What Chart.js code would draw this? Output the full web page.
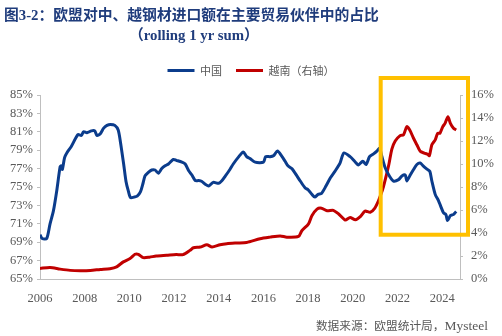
<!DOCTYPE html>
<html>
<head>
<meta charset="utf-8">
<script src="https://cdn.jsdelivr.net/npm/chart.js@4.4.1/dist/chart.umd.min.js"></script>
<style>
  body { margin: 0; background: #fff; }
  #wrap { position: relative; width: 502px; height: 336px; }
  .title { position: absolute; color: #1F3C7C; font-weight: bold; font-size: 14.8px; white-space: nowrap;
           font-family: "Liberation Serif", "Noto Sans CJK SC", serif; }
  #src { position: absolute; right: 14px; top: 316px; font-size: 11.7px; color: #595959; white-space: nowrap;
         font-family: "Noto Sans CJK SC", sans-serif; }
  #src span { font-family: "Liberation Serif", serif; font-size: 13.5px; }
</style>
</head>
<body>
<div id="wrap">
  <canvas id="chart" width="502" height="336"></canvas>
  <div class="title" style="left:4px; top:3px;">图3-2：欧盟对中、越钢材进口额在主要贸易伙伴中的占比</div>
  <div class="title" style="left:129px; top:23px;">（rolling 1 yr sum）</div>
  <div id="src">数据来源：欧盟统计局，<span>Mysteel</span></div>
</div>
<script>
// 中国 share (left axis, %)
const chinaX = [2006.0, 2006.1, 2006.3, 2006.45, 2006.6, 2006.75, 2006.9, 2006.95, 2007.0, 2007.1, 2007.2, 2007.4, 2007.7, 2007.85, 2007.95,
  2008.1, 2008.3, 2008.45, 2008.55, 2008.7, 2008.85, 2009.0, 2009.15, 2009.35, 2009.5, 2009.6, 2009.75, 2009.85, 2009.95,
  2010.05, 2010.2, 2010.35, 2010.5, 2010.6, 2010.7, 2010.85, 2011.0, 2011.15, 2011.3, 2011.45, 2011.6, 2011.75, 2011.97,
  2012.1, 2012.35, 2012.5, 2012.65, 2012.8, 2012.95, 2013.1, 2013.25, 2013.4, 2013.55, 2013.75, 2014.0, 2014.15, 2014.3,
  2014.5, 2014.65, 2014.9, 2015.1, 2015.25, 2015.4, 2015.63, 2016.0, 2016.1, 2016.3, 2016.45, 2016.63, 2016.82, 2016.97,
  2017.1, 2017.27, 2017.5, 2017.65, 2017.87, 2018.0, 2018.17, 2018.3, 2018.45, 2018.6, 2018.8, 2019.0, 2019.2, 2019.43,
  2019.6, 2019.88, 2020.1, 2020.25, 2020.45, 2020.6, 2020.75, 2020.93, 2021.08, 2021.2, 2021.3, 2021.45, 2021.64, 2021.82,
  2022.05, 2022.2, 2022.35, 2022.42, 2022.55, 2022.72, 2022.87, 2023.02, 2023.15, 2023.32, 2023.45, 2023.54, 2023.69,
  2023.84, 2023.93, 2024.06, 2024.17, 2024.24, 2024.37, 2024.5, 2024.63];
const chinaY = [69.8, 69.4, 69.4, 71.0, 72.4, 74.6, 77.2, 77.3, 76.9, 78.2, 78.7, 79.4, 80.7, 80.6, 81.0,
  80.9, 81.1, 81.1, 80.6, 80.8, 81.4, 81.7, 81.8, 81.7, 81.2, 79.9, 77.4, 75.6, 74.6,
  73.85, 73.9, 74.0, 74.5, 75.3, 76.2, 76.6, 76.85, 76.85, 76.5, 77.0, 77.3, 77.5, 78.0,
  77.9, 77.7, 77.5, 76.8, 76.3, 75.7, 75.7, 75.6, 75.3, 75.1, 75.5, 75.4, 75.7, 76.2,
  76.9, 77.5, 78.3, 78.8, 78.3, 78.1, 77.7, 77.7, 78.3, 78.3, 78.4, 78.9, 78.35, 77.8,
  77.3, 77.0, 76.2, 75.65, 74.9, 74.7, 74.2, 73.9, 74.2, 74.3, 75.1, 76.0, 76.7, 77.6,
  78.7, 78.3, 77.75, 77.4, 77.8, 77.45, 78.3, 78.6, 78.9, 79.2, 78.35, 77.1, 76.2, 75.65,
  75.8, 76.2, 76.3, 75.65, 76.2, 76.9, 77.45, 77.6, 77.3, 76.95, 76.7, 75.65, 74.2,
  73.5, 72.95, 72.2, 72.0, 71.35, 71.9, 72.0, 72.35];

// 越南 share (right axis, %)
const vietX = [2006.0, 2006.45, 2006.9, 2007.35, 2007.8, 2008.25, 2008.7, 2009.13, 2009.43, 2009.73, 2010.03, 2010.25, 2010.4,
  2010.62, 2010.9, 2011.2, 2011.67, 2012.1, 2012.4, 2012.72, 2012.87, 2013.17, 2013.47, 2013.7, 2014.06, 2014.36, 2014.8,
  2015.25, 2015.85, 2016.3, 2016.75, 2017.05, 2017.57, 2017.72, 2018.02, 2018.17, 2018.4, 2018.6, 2018.85, 2019.13, 2019.37,
  2019.66, 2019.88, 2020.12, 2020.35, 2020.55, 2020.78, 2020.98, 2021.15, 2021.26, 2021.37, 2021.5, 2021.62, 2021.75, 2021.9,
  2022.12, 2022.27, 2022.42, 2022.55, 2022.72, 2022.87, 2023.02, 2023.2, 2023.35, 2023.43, 2023.54, 2023.69, 2023.8, 2023.9,
  2024.03, 2024.13, 2024.26, 2024.37, 2024.51, 2024.63];
const vietY = [0.92, 1.0, 0.86, 0.75, 0.72, 0.74, 0.83, 0.9, 1.06, 1.49, 1.78, 2.15, 2.15,
  1.86, 1.9, 2.0, 2.06, 2.12, 2.12, 2.5, 2.72, 2.78, 2.98, 2.78, 2.98, 3.07, 3.13,
  3.18, 3.5, 3.64, 3.75, 3.64, 3.7, 4.2, 4.8, 5.5, 6.08, 6.16, 5.93, 5.97, 5.65,
  5.13, 5.35, 5.15, 5.45, 5.9, 5.8, 6.15, 6.8, 7.37, 8.0, 9.0, 10.0, 11.3, 12.0,
  12.47, 12.53, 13.25, 12.96, 12.24, 11.67, 11.1, 10.95, 10.85, 10.72, 11.67, 12.1, 12.67, 12.67,
  13.25, 13.53, 14.1, 13.53, 13.1, 12.96];

const seriesNames = ["中国", "越南（右轴）"];
const xTicks = [2006, 2008, 2010, 2012, 2014, 2016, 2018, 2020, 2022, 2024];
const leftTicks = [65, 67, 69, 71, 73, 75, 77, 79, 81, 83, 85];
const rightTicks = [0, 2, 4, 6, 8, 10, 12, 14, 16];
// highlighted period (yellow box)
const boxFrom = 2021.25;
const boxBottom = 3.85;

const grey = "#595959";
const axisGrey = "#BFBFBF";
const tickFont = { family: "'Liberation Serif', serif", size: 12.5 };

const yellowBox = {
  id: "yellowBox",
  afterDatasetsDraw(chart) {
    const { ctx, chartArea, scales } = chart;
    const x0 = scales.x.getPixelForValue(boxFrom);
    const y1 = scales.y1.getPixelForValue(boxBottom);
    const x1 = chartArea.right + 8;
    const y0 = chartArea.top - 17;
    ctx.save();
    ctx.strokeStyle = "#FFC000";
    ctx.lineWidth = 4;
    ctx.strokeRect(x0, y0, x1 - x0, y1 - y0);
    ctx.restore();
  },
};

new Chart(document.getElementById("chart"), {
  type: "line",
  data: {
    datasets: [
      {
        label: seriesNames[0],
        data: chinaX.map((x, i) => ({ x: x, y: chinaY[i] })),
        borderColor: "#0B3C8C",
        backgroundColor: "#0B3C8C",
        borderWidth: 3,
        pointRadius: 0,
        tension: 0.25,
        yAxisID: "y",
      },
      {
        label: seriesNames[1],
        data: vietX.map((x, i) => ({ x: x, y: vietY[i] })),
        borderColor: "#C00000",
        backgroundColor: "#C00000",
        borderWidth: 3,
        pointRadius: 0,
        tension: 0.25,
        yAxisID: "y1",
      },
    ],
  },
  options: {
    responsive: false,
    animation: false,
    layout: { padding: { top: 51, left: 0, right: 0, bottom: 0 } },
    plugins: {
      legend: {
        display: true,
        position: "top",
        labels: {
          usePointStyle: true,
          pointStyle: "line",
          pointStyleWidth: 27,
          color: grey,
          font: { family: "'Noto Sans CJK SC', sans-serif", size: 11 },
          padding: 14,
        },
      },
      // empty spacer between the legend and the plot
      subtitle: { display: true, text: " ", weight: 500, padding: 0, font: { size: 9, lineHeight: 1 } },
      tooltip: { enabled: false },
    },
    scales: {
      x: {
        type: "linear",
        min: 2006,
        max: 2024.8,
        afterBuildTicks: (s) => { s.ticks = xTicks.map((v) => ({ value: v })); },
        afterFit: (s) => { s.height = 57; },
        grid: { display: false },
        border: { display: true, color: axisGrey, width: 1 },
        ticks: { color: grey, font: tickFont, padding: 4, maxRotation: 0, callback: (v) => String(v) },
      },
      y: {
        position: "left",
        min: 65,
        max: 85,
        afterBuildTicks: (s) => { s.ticks = leftTicks.map((v) => ({ value: v })); },
        afterFit: (s) => { s.width = 40; },
        grid: { display: true, drawOnChartArea: false, tickLength: 3, color: axisGrey },
        border: { display: true, color: axisGrey },
        ticks: { color: grey, font: tickFont, padding: 4, callback: (v) => v + "%" },
      },
      y1: {
        position: "right",
        min: 0,
        max: 16,
        afterBuildTicks: (s) => { s.ticks = rightTicks.map((v) => ({ value: v })); },
        afterFit: (s) => { s.width = 42; },
        grid: { display: true, drawOnChartArea: false, tickLength: 3, color: axisGrey },
        border: { display: true, color: axisGrey },
        ticks: { color: grey, font: tickFont, padding: 8, callback: (v) => v + "%" },
      },
    },
  },
  plugins: [yellowBox],
});
</script>
</body>
</html>
